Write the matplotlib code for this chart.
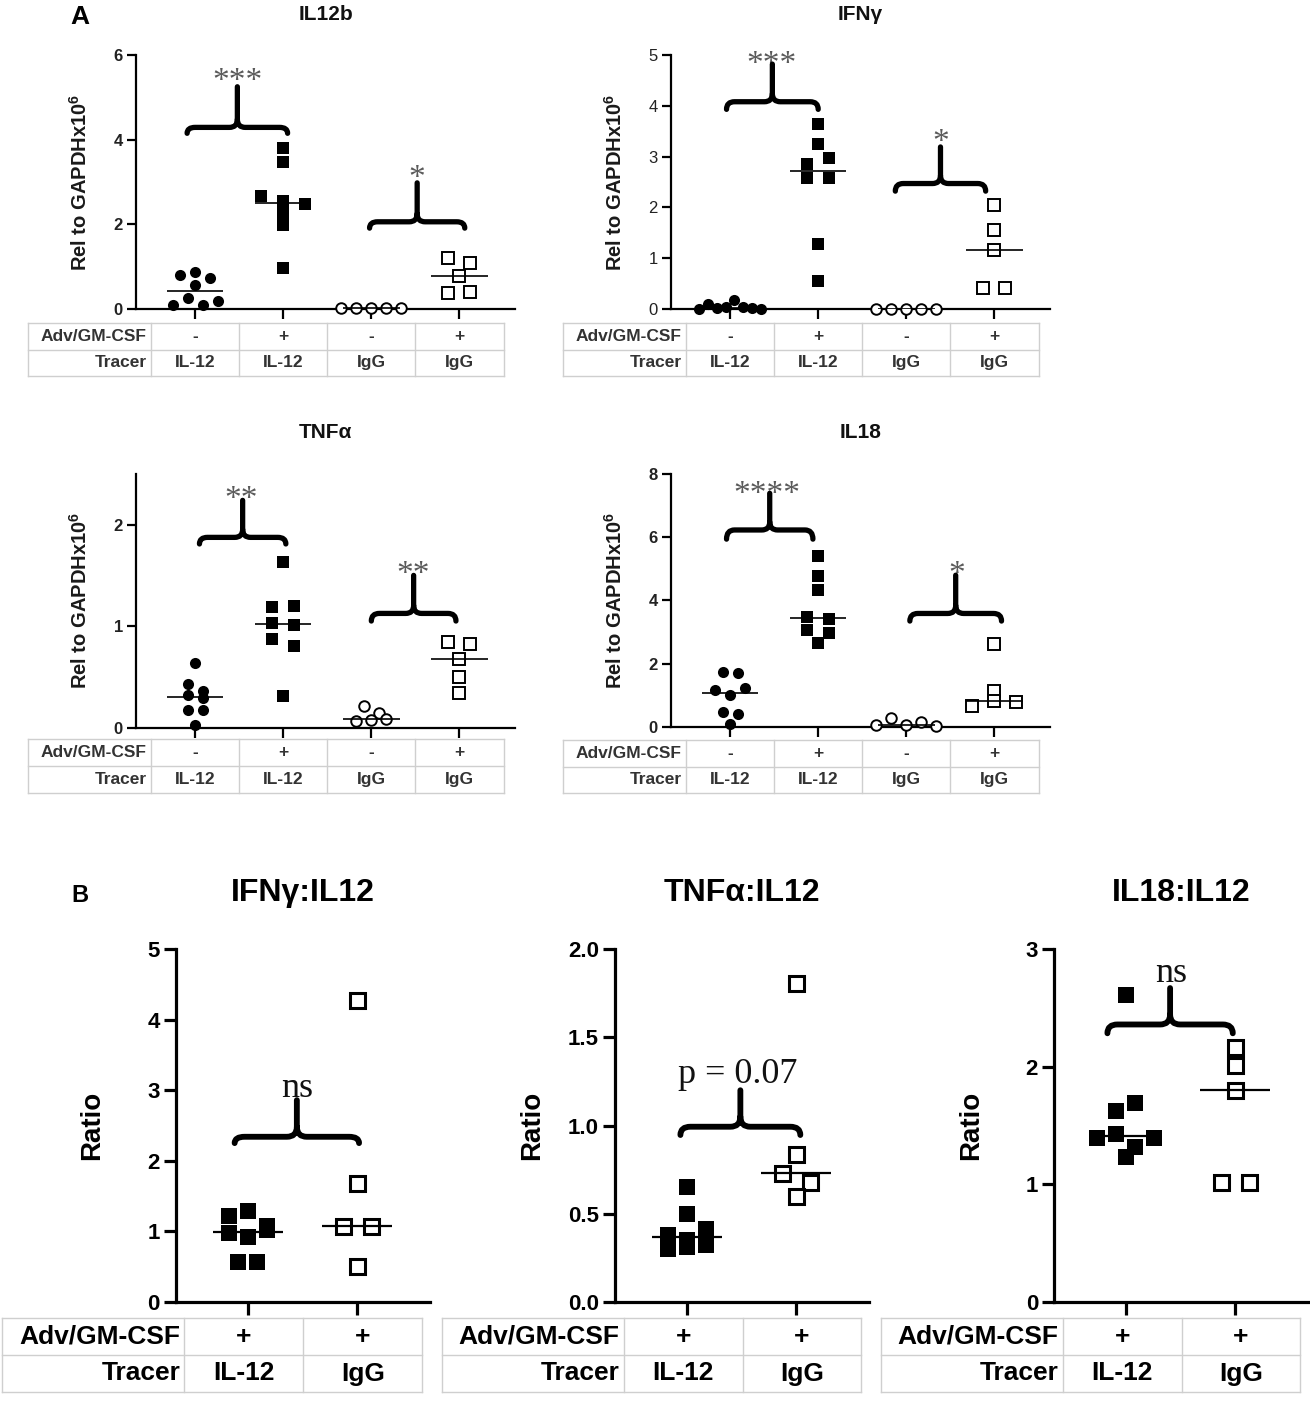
import numpy as np
import matplotlib
matplotlib.use("Agg")
import matplotlib.pyplot as plt
from matplotlib.path import Path
from matplotlib.patches import PathPatch

plt.rcParams['font.family'] = ['Liberation Sans', 'DejaVu Sans']
plt.rcParams['mathtext.fontset'] = 'custom'
plt.rcParams['mathtext.rm'] = 'Liberation Sans'
plt.rcParams['mathtext.bf'] = 'Liberation Sans:bold'

# ---------------- data ----------------
adv_A = ['-', '+', '-', '+']
tracer_A = ['IL-12', 'IL-12', 'IgG', 'IgG']
adv_B = ['+', '+']
tracer_B = ['IL-12', 'IgG']

# Panel A: IL12b
il12b_neg_il12 = [0.81, 0.87, 0.73, 0.57, 0.10, 0.26, 0.10, 0.18]
il12b_pos_il12 = [3.80, 3.48, 2.67, 2.54, 2.48, 2.26, 1.99, 0.98]
il12b_neg_igg = [0.02, 0.03, 0.02, 0.03, 0.02]
il12b_pos_igg = [1.20, 1.09, 0.79, 0.38, 0.39]

# Panel A: IFNg
ifng_neg_il12 = [0.0, 0.10, 0.02, 0.04, 0.18, 0.03, 0.01, 0.0]
ifng_pos_il12 = [3.65, 3.25, 2.85, 2.98, 2.58, 2.58, 1.27, 0.55]
ifng_neg_igg = [0.0, 0.0, 0.0, 0.0, 0.0]
ifng_pos_igg = [2.04, 1.56, 1.16, 0.41, 0.41]

# Panel A: TNFa
tnfa_neg_il12 = [0.64, 0.32, 0.43, 0.29, 0.36, 0.175, 0.175, 0.02]
tnfa_pos_il12 = [1.63, 1.19, 1.20, 1.03, 1.01, 0.87, 0.80, 0.31]
tnfa_neg_igg = [0.21, 0.06, 0.14, 0.076, 0.08]
tnfa_pos_igg = [0.84, 0.82, 0.68, 0.50, 0.34]

# Panel A: IL18
il18_neg_il12 = [1.74, 1.72, 1.16, 1.00, 1.23, 0.47, 0.42, 0.10]
il18_pos_il12 = [5.41, 4.77, 4.33, 3.48, 3.40, 3.06, 2.98, 2.66]
il18_neg_igg = [0.07, 0.30, 0.07, 0.16, 0.02]
il18_pos_igg = [2.64, 1.13, 0.66, 0.81, 0.79]

# Panel B: ratios
ifng_ratio_il12 = [1.21, 1.28, 0.97, 0.92, 1.02, 1.07, 0.57, 0.57]
ifng_ratio_igg = [4.28, 1.68, 1.07, 1.07, 0.51]
tnfa_ratio_il12 = [0.653, 0.50, 0.38, 0.30, 0.35, 0.31, 0.41, 0.32]
tnfa_ratio_igg = [1.81, 0.84, 0.73, 0.68, 0.60]
il18_ratio_il12 = [2.61, 1.62, 1.69, 1.39, 1.43, 1.32, 1.39, 1.235]
il18_ratio_igg = [2.17, 2.015, 1.80, 1.02, 1.02]

W, H = 1310, 1401
fig = plt.figure(figsize=(W / 100, H / 100), dpi=100)


def add_ax(l, t, r, b):
    return fig.add_axes([l / W, 1 - b / H, (r - l) / W, (b - t) / H])


def px_per_unit(ax):
    pos = ax.get_position()
    xl, yl = ax.get_xlim(), ax.get_ylim()
    return pos.width * W / (xl[1] - xl[0]), pos.height * H / (yl[1] - yl[0])


def swarm(ax, vals, size_px, spacing_px, max_width_px=62):
    sx, sy = px_per_unit(ax)
    vals = np.asarray(vals, float)
    order = np.argsort(-vals, kind='stable')
    rows = []
    for i in order:
        if rows and (vals[rows[-1][0]] - vals[i]) * sy < 0.9 * size_px:
            rows[-1].append(i)
        else:
            rows.append([i])
    offs = np.zeros(len(vals))
    for r in rows:
        n = len(r)
        sp = spacing_px if n < 2 else min(spacing_px, max_width_px / (n - 1))
        for k, i in enumerate(sorted(r)):
            offs[i] = (k - (n - 1) / 2) * sp / sx
    return offs


def brace(ax, x1, x2, y_end, y_bar, y_top, lw, r_px=8):
    sx, sy = px_per_unit(ax)
    rx, ry = r_px / sx, r_px / sy
    xm = (x1 + x2) / 2
    verts = [(x1, y_end), (x1, y_bar), (x1 + rx, y_bar), (xm - rx, y_bar),
             (xm, y_bar), (xm, y_bar + ry), (xm, y_top),
             (xm, y_bar + ry), (xm, y_bar), (xm + rx, y_bar), (x2 - rx, y_bar),
             (x2, y_bar), (x2, y_end)]
    codes = [Path.MOVETO, Path.CURVE3, Path.CURVE3, Path.LINETO,
             Path.CURVE3, Path.CURVE3, Path.LINETO,
             Path.MOVETO, Path.CURVE3, Path.CURVE3, Path.LINETO,
             Path.CURVE3, Path.CURVE3]
    ax.add_patch(PathPatch(Path(verts, codes), fill=False, lw=lw, color='black',
                           capstyle='round', joinstyle='round', clip_on=False, zorder=5))


def draw_table(ax, t, b, rows, labels, bounds, left, fs, color, lw_grid=1.0):
    pos = ax.get_position()
    tax = fig.add_axes([pos.x0, 1 - b / H, pos.width, (b - t) / H])
    tax.set_xlim(ax.get_xlim())
    tax.set_ylim(0, 2)
    tax.axis('off')
    gc = '#cfcfcf'
    for yy in (0, 1, 2):
        tax.plot([left, bounds[-1]], [yy, yy], color=gc, lw=lw_grid, clip_on=False)
    for xx in [left] + list(bounds):
        tax.plot([xx, xx], [0, 2], color=gc, lw=lw_grid, clip_on=False)
    sx, _ = px_per_unit(tax)
    for ri, (lab, vals) in enumerate(zip(labels, rows)):
        yc = 1.5 - ri
        tax.text(bounds[0] - 4 / sx, yc, lab, ha='right', va='center', fontsize=fs,
                 fontweight='bold', color=color, clip_on=False)
        for ci, v in enumerate(vals):
            tax.text((bounds[ci] + bounds[ci + 1]) / 2, yc, v, ha='center', va='center',
                     fontsize=fs, fontweight='bold', color=color, clip_on=False)


def style(ax, yticks, ncat, spine_lw, ylen, xlen, tlw, fs, tcolor, fmt=None, weight='bold'):
    for s in ('top', 'right'):
        ax.spines[s].set_visible(False)
    for s in ('left', 'bottom'):
        ax.spines[s].set_linewidth(spine_lw)
    ax.set_yticks(yticks)
    if fmt:
        ax.set_yticklabels([fmt % v for v in yticks])
    ax.set_xticks(range(ncat))
    ax.tick_params(axis='y', length=ylen, width=tlw, labelsize=fs, colors='black',
                   labelcolor=tcolor, pad=3)
    ax.tick_params(axis='x', length=xlen, width=tlw, labelbottom=False, colors='black')
    for lab in ax.get_yticklabels():
        lab.set_fontweight(weight)


def plot_groups(ax, groups, styles, ms_list, spacings, mew, median_lw, half=0.32):
    for i, (vals, st, ms, sp) in enumerate(zip(groups, styles, ms_list, spacings)):
        offs = swarm(ax, vals, ms * 1.389, sp)
        marker, filled = st
        ax.plot(i + offs, vals, linestyle='none', marker=marker, ms=ms,
                mfc='black' if filled else 'white', mec='black', mew=mew if not filled else 0,
                clip_on=False, zorder=3)
        med = np.median(vals)
        ax.plot([i - half, i + half], [med, med], color='black', lw=median_lw, zorder=4,
                solid_capstyle='butt')


def star_text(ax, x, y, txt, fs):
    ax.annotate(txt, xy=(x, y), xytext=(0, -0.5 * fs), textcoords='offset points',
                ha='center', va='baseline', fontsize=fs, color='#5a5a5a',
                family=['Liberation Serif', 'DejaVu Serif'], annotation_clip=False)


# ---------------- Panel A ----------------
A_specs = [
    dict(box=(136, 55, 515, 309), ylim=6, yticks=[0, 2, 4, 6], title='IL12b',
         groups=[il12b_neg_il12, il12b_pos_il12, il12b_neg_igg, il12b_pos_igg],
         table=(323, 376), weight='bold',
         braces=[((-0.09, 1.05, 4.15, 4.29, 5.25), (0.48, 5.57, '***')),
                 ((1.98, 3.06, 1.91, 2.06, 2.98), (2.52, 3.28, '*'))]),
    dict(box=(671, 55, 1050, 309), ylim=5, yticks=[0, 1, 2, 3, 4, 5], title='IFN\u03b3',
         groups=[ifng_neg_il12, ifng_pos_il12, ifng_neg_igg, ifng_pos_igg],
         table=(323, 376), weight='normal',
         braces=[((-0.04, 1.0, 3.93, 4.08, 4.82), (0.47, 4.98, '***')),
                 ((1.875, 2.9, 2.32, 2.47, 3.19), (2.39, 3.44, '*'))]),
    dict(box=(136, 474, 515, 727.5), ylim=2.5, yticks=[0, 1, 2], title='TNF\u03b1',
         groups=[tnfa_neg_il12, tnfa_pos_il12, tnfa_neg_igg, tnfa_pos_igg],
         table=(739, 793), weight='bold',
         braces=[((0.05, 1.03, 1.81, 1.875, 2.24), (0.52, 2.33, '**')),
                 ((2.0, 2.96, 1.05, 1.125, 1.50), (2.47, 1.59, '**'))]),
    dict(box=(671, 474, 1050, 727), ylim=8, yticks=[0, 2, 4, 6, 8], title='IL18',
         groups=[il18_neg_il12, il18_pos_il12, il18_neg_igg, il18_pos_igg],
         table=(740, 793), weight='bold',
         braces=[((-0.04, 0.94, 5.94, 6.23, 7.39), (0.415, 7.6, '****')),
                 ((2.04, 3.08, 3.35, 3.59, 4.80), (2.57, 5.09, '*'))]),
]

A_styles = [('o', True), ('s', True), ('o', False), ('s', False)]
for sp in A_specs:
    ax = add_ax(*sp['box'])
    ax.set_xlim(-0.67, 3.63)
    ax.set_ylim(0, sp['ylim'])
    style(ax, sp['yticks'], 4, 1.6, 6.5, 7.5, 1.6, 12, '#222222', weight=sp['weight'])
    plot_groups(ax, sp['groups'], A_styles, [8.0, 8.8, 7.6, 8.0], [15, 22, 15, 22],
                mew=1.4, median_lw=1.2)
    for (bx, (tx, ty, txt)) in sp['braces']:
        brace(ax, *bx, lw=3.8, r_px=8)
        star_text(ax, tx, ty, txt, 24)
    top_px = sp['box'][1]
    hgt = sp['box'][3] - sp['box'][1]
    ax.text(0.5, 1 + (top_px - (15 if top_px < 100 else 433)) / hgt, sp['title'],
            transform=ax.transAxes, ha='center', va='center', fontsize=15,
            fontweight='bold', color='#111111')
    ax.text(-0.147, 0.5, r'Rel to GAPDHx10$^{\mathbf{6}}$', transform=ax.transAxes,
            rotation=90, ha='center', va='center', fontsize=14.5, fontweight='bold',
            color='#1a1a1a')
    draw_table(ax, sp['table'][0], sp['table'][1], [adv_A, tracer_A],
               ['Adv/GM-CSF', 'Tracer'], [-0.5, 0.5, 1.5, 2.5, 3.5], -1.9, 12.5, '#333333')

# ---------------- Panel B ----------------
B_specs = [
    dict(box=(175.7, 949.3, 430, 1301.7), ylim=5, yticks=[0, 1, 2, 3, 4, 5], fmt=None,
         title='IFN\u03b3:IL12', groups=[ifng_ratio_il12, ifng_ratio_igg],
         brace=(-0.12, 1.02, 2.25, 2.34, 2.86), label=(0.45, 2.91, 'ns')),
    dict(box=(615, 949.3, 869, 1301.7), ylim=2.0, yticks=[0, 0.5, 1.0, 1.5, 2.0], fmt='%.1f',
         title='TNF\u03b1:IL12', groups=[tnfa_ratio_il12, tnfa_ratio_igg],
         brace=(-0.06, 1.04, 0.946, 0.993, 1.2), label=(0.47, 1.24, 'p = 0.07')),
    dict(box=(1054, 949.3, 1308, 1301.7), ylim=3, yticks=[0, 1, 2, 3], fmt=None,
         title='IL18:IL12', groups=[il18_ratio_il12, il18_ratio_igg],
         brace=(-0.17, 0.98, 2.285, 2.36, 2.67), label=(0.415, 2.72, 'ns')),
]

B_styles = [('s', True), ('s', False)]
for sp in B_specs:
    ax = add_ax(*sp['box'])
    ax.set_xlim(-0.66, 1.67)
    ax.set_ylim(0, sp['ylim'])
    style(ax, sp['yticks'], 2, 2.3, 8.5, 9.5, 2.3, 16, 'black', fmt=sp['fmt'])
    plot_groups(ax, sp['groups'], B_styles, [12.0, 10.8], [19, 28], mew=2.2, median_lw=1.6)
    brace(ax, *sp['brace'], lw=4.2, r_px=10)
    lx, ly, lt = sp['label']
    ax.text(lx, ly, lt, ha='center', va='baseline', fontsize=26,
            family=['Liberation Serif', 'DejaVu Serif'], color='#111111', clip_on=False)
    hgt = sp['box'][3] - sp['box'][1]
    ax.text(0.5, 1 + (sp['box'][1] - 893) / hgt, sp['title'], transform=ax.transAxes,
            ha='center', va='center', fontsize=23, fontweight='bold')
    ax.text(-0.327, 0.5, 'Ratio', transform=ax.transAxes, rotation=90, ha='center',
            va='center', fontsize=20, fontweight='bold')
    draw_table(ax, 1318, 1392, [adv_B, tracer_B], ['Adv/GM-CSF', 'Tracer'],
               [-0.58, 0.51, 1.6], -2.25, 19, 'black')

fig.text(80 / W, 1 - 17 / H, 'A', ha='center', va='center', fontsize=19, fontweight='bold')
fig.text(80 / W, 1 - 895 / H, 'B', ha='center', va='center', fontsize=17, fontweight='bold')

fig.savefig('out.png', dpi=100, facecolor='white')
